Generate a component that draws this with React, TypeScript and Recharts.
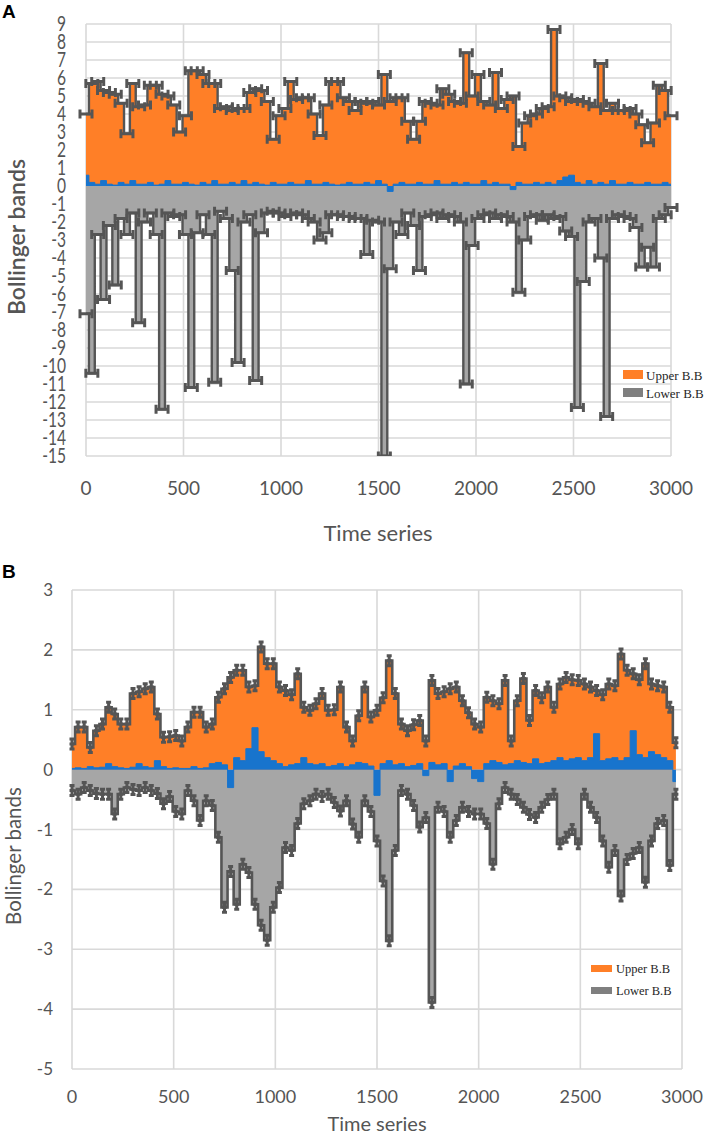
import React from 'react';
import { ComposedChart, Area, XAxis, YAxis, CartesianGrid } from 'recharts';

// ---------------------------------------------------------------------------
// Données (pas de 30 sur l'axe du temps)
// ---------------------------------------------------------------------------

const TIME_A = [
  0, 30, 60, 90, 120, 150, 180, 210, 240, 270,
  300, 330, 360, 390, 420, 450, 480, 510, 540, 570,
  600, 630, 660, 690, 720, 750, 780, 810, 840, 870,
  900, 930, 960, 990, 1020, 1050, 1080, 1110, 1140, 1170,
  1200, 1230, 1260, 1290, 1320, 1350, 1380, 1410, 1440, 1470,
  1500, 1530, 1560, 1590, 1620, 1650, 1680, 1710, 1740, 1770,
  1800, 1830, 1860, 1890, 1920, 1950, 1980, 2010, 2040, 2070,
  2100, 2130, 2160, 2190, 2220, 2250, 2280, 2310, 2340, 2370,
  2400, 2430, 2460, 2490, 2520, 2550, 2580, 2610, 2640, 2670,
  2700, 2730, 2760, 2790, 2820, 2850, 2880, 2910, 2940, 2970,
  3000,
];

const UPPER_A = [
  4.0, 5.7, 5.8, 5.3, 5.2, 5.1, 4.6, 2.9, 5.7, 4.4,
  4.5, 5.6, 5.6, 5.1, 5.0, 4.5, 3.0, 3.9, 6.4, 6.4,
  6.2, 5.7, 5.7, 4.3, 4.4, 4.2, 4.3, 4.3, 5.2, 5.4,
  5.3, 4.7, 2.6, 3.9, 4.3, 5.8, 4.8, 4.9, 4.9, 4.0,
  2.8, 4.5, 5.8, 5.8, 4.9, 4.7, 4.2, 4.7, 4.6, 4.7,
  4.5, 6.2, 4.7, 4.9, 4.9, 3.6, 2.6, 3.6, 4.7, 4.6,
  4.5, 5.4, 5.1, 4.7, 4.6, 7.4, 5.0, 6.2, 4.7, 4.5,
  6.3, 4.3, 4.8, 5.0, 2.2, 3.5, 3.9, 4.0, 4.3, 4.4,
  8.7, 5.0, 4.9, 4.7, 4.8, 4.7, 4.6, 4.4, 6.8, 4.2,
  4.6, 4.2, 4.2, 4.3, 4.0, 3.4, 2.4, 3.5, 5.6, 5.3,
  3.9,
];

const LOWER_A = [
  -7.1, -10.4, -2.7, -6.3, -2.2, -5.5, -1.8, -2.7, -1.5, -7.6,
  -2.0, -1.5, -2.7, -12.4, -1.5, -1.7, -1.6, -2.7, -11.2, -2.6,
  -1.6, -2.7, -10.9, -1.4, -1.8, -4.7, -9.8, -2.0, -1.6, -10.8,
  -2.6, -1.5, -1.4, -1.5, -1.7, -1.6, -1.5, -1.6, -1.8, -2.0,
  -3.0, -2.6, -1.6, -1.6, -1.7, -1.7, -1.8, -1.8, -3.8, -1.9,
  -2.0, -15.0, -4.6, -2.0, -2.7, -1.5, -2.2, -4.7, -1.7, -1.6,
  -1.5, -1.8, -1.6, -1.7, -2.0, -11.0, -3.3, -1.8, -1.6, -1.5,
  -1.8, -1.6, -1.7, -2.0, -5.9, -3.0, -1.7, -1.6, -1.9, -1.6,
  -1.8, -1.7, -2.5, -2.8, -12.3, -5.3, -2.0, -1.8, -4.0, -12.8,
  -1.8, -1.6, -1.7, -1.8, -2.3, -4.5, -3.4, -4.5, -1.8, -1.6,
  -1.2,
];

const MIDDLE_A = [
  0.6, 0.2, 0.1, 0.3, 0.1, 0.05, 0.2, 0.1, 0.3, 0.1,
  0.1, 0.2, 0.05, 0.1, 0.3, 0.1, 0.1, 0.2, 0.1, 0.05,
  0.2, 0.1, 0.3, 0.1, 0.1, 0.2, 0.1, 0.3, 0.1, 0.2,
  0.1, 0.05, 0.2, 0.1, 0.1, 0.2, 0.1, 0.1, 0.3, 0.1,
  0.1, 0.2, 0.1, 0.05, 0.1, 0.2, 0.1, 0.1, 0.2, 0.1,
  0.3, 0.1, -0.3, 0.1, 0.2, 0.1, 0.1, 0.2, 0.1, 0.1,
  0.3, 0.1, 0.1, 0.2, 0.1, 0.2, 0.1, 0.1, 0.3, 0.1,
  0.2, 0.1, 0.1, -0.2, 0.2, 0.1, 0.1, 0.2, 0.1, 0.2,
  0.1, 0.3, 0.5, 0.6, 0.2, 0.1, 0.3, 0.1, 0.2, 0.1,
  0.3, 0.1, 0.1, 0.2, 0.1, 0.1, 0.2, 0.1, 0.1, 0.2,
  0.1,
];

const TIME_B = [
  0, 30, 60, 90, 120, 150, 180, 210, 240, 270,
  300, 330, 360, 390, 420, 450, 480, 510, 540, 570,
  600, 630, 660, 690, 720, 750, 780, 810, 840, 870,
  900, 930, 960, 990, 1020, 1050, 1080, 1110, 1140, 1170,
  1200, 1230, 1260, 1290, 1320, 1350, 1380, 1410, 1440, 1470,
  1500, 1530, 1560, 1590, 1620, 1650, 1680, 1710, 1740, 1770,
  1800, 1830, 1860, 1890, 1920, 1950, 1980, 2010, 2040, 2070,
  2100, 2130, 2160, 2190, 2220, 2250, 2280, 2310, 2340, 2370,
  2400, 2430, 2460, 2490, 2520, 2550, 2580, 2610, 2640, 2670,
  2700, 2730, 2760, 2790, 2820, 2850, 2880, 2910, 2940, 2970,
];

const UPPER_B = [
  0.43, 0.71, 0.71, 0.37, 0.65, 0.76, 1.04, 0.93, 0.76, 0.76,
  1.27, 1.30, 1.35, 1.38, 0.93, 0.54, 0.55, 0.57, 0.48, 0.71,
  0.96, 0.96, 0.71, 0.76, 1.21, 1.35, 1.54, 1.66, 1.66, 1.38,
  1.40, 2.05, 1.77, 1.77, 1.38, 1.32, 1.25, 1.60, 1.04, 0.99,
  1.10, 1.27, 0.99, 1.00, 1.38, 0.71, 0.48, 0.90, 1.38, 0.88,
  0.99, 1.20, 1.82, 1.27, 0.76, 0.65, 0.75, 0.82, 0.48, 1.49,
  1.27, 1.30, 1.35, 1.38, 1.15, 0.95, 0.76, 0.71, 1.21, 1.15,
  1.10, 1.49, 0.48, 1.15, 1.52, 0.82, 1.32, 1.20, 1.38, 1.04,
  1.43, 1.54, 1.50, 1.49, 1.43, 1.38, 1.32, 1.25, 1.43, 1.40,
  1.93, 1.66, 1.60, 1.50, 1.77, 1.43, 1.40, 1.38, 1.04, 0.45,
];

const LOWER_B = [
  -0.35, -0.41, -0.30, -0.35, -0.40, -0.41, -0.41, -0.74, -0.41, -0.30,
  -0.33, -0.35, -0.30, -0.35, -0.40, -0.57, -0.45, -0.70, -0.74, -0.35,
  -0.52, -0.85, -0.52, -0.60, -1.13, -2.30, -1.70, -2.25, -1.58, -1.72,
  -2.25, -2.60, -2.85, -2.30, -1.97, -1.30, -1.35, -0.90, -0.57, -0.52,
  -0.41, -0.45, -0.41, -0.55, -0.69, -0.52, -0.91, -1.13, -0.52, -0.70,
  -1.19, -1.86, -2.86, -1.35, -0.35, -0.41, -0.60, -0.96, -0.80, -3.89,
  -0.63, -0.70, -1.13, -0.85, -0.63, -0.70, -0.74, -0.74, -0.90, -1.58,
  -0.57, -0.30, -0.41, -0.50, -0.63, -0.75, -0.80, -0.63, -0.50, -0.41,
  -1.24, -1.13, -1.00, -1.24, -0.41, -0.63, -0.80, -1.19, -1.63, -1.35,
  -2.11, -1.50, -1.40, -1.30, -1.88, -1.19, -0.90, -0.85, -1.60, -0.41,
];

const MIDDLE_B = [
  0.02, 0.03, 0.02, 0.05, 0.03, 0.04, 0.1, 0.05, 0.03, 0.02,
  0.04, 0.1, 0.05, 0.03, 0.15, 0.05, 0.02, 0.03, 0.02, 0.02,
  0.05, 0.02, 0.03, 0.1, 0.12, 0.08, -0.3, 0.2, 0.15, 0.35,
  0.7, 0.3, 0.2, 0.15, 0.1, 0.05, 0.08, 0.1, 0.2, 0.1,
  0.08, 0.1, 0.05, 0.07, 0.1, 0.05, 0.08, 0.12, 0.1, 0.06,
  -0.43, 0.1, 0.15, 0.08, 0.1, 0.05, 0.07, 0.1, -0.1, 0.12,
  0.08, 0.1, -0.2, 0.06, 0.1, 0.05, -0.15, -0.2, 0.1, 0.15,
  0.12, 0.08, 0.1, 0.15, 0.12, 0.1, 0.18, 0.1, 0.12, 0.15,
  0.2, 0.15, 0.18, 0.2, 0.15, 0.2, 0.6, 0.15, 0.18, 0.2,
  0.15, 0.2, 0.65, 0.25, 0.2, 0.3, 0.25, 0.2, 0.15, -0.2,
];

const X_TICKS = [0, 500, 1000, 1500, 2000, 2500, 3000];
const Y_TICKS_A = [-15, -14, -13, -12, -11, -10, -9, -8, -7, -6, -5, -4, -3, -2, -1, 0, 1, 2, 3, 4, 5, 6, 7, 8, 9];
const Y_TICKS_B = [-5, -4, -3, -2, -1, 0, 1, 2, 3];

const ORANGE = '#FF7F27';
const GREY = '#A6A6A6';
const DARK = '#555555';
const BLUE = '#1874CD';
const GRID = '#D9D9D9';
const FONT = 'Lato, "Open Sans", sans-serif';
const SERIF = "'Liberation Serif', 'Times New Roman', serif";

function rows(time: number[], upper: number[], lower: number[], middle: number[]) {
  return time.map((t, i) => ({ t, upper: upper[i], lower: lower[i], middle: middle[i] }));
}

const dataA = rows(TIME_A, UPPER_A, LOWER_A, MIDDLE_A);
const dataB = rows(TIME_B, UPPER_B, LOWER_B, MIDDLE_B);

// barres d'erreur : horizontales sur A, verticales sur B
const capA = (p: any) => {
  const { cx, cy, index } = p;
  if (cx == null || cy == null) return <g key={`ca${index}`} />;
  return (
    <path
      key={`ca${index}`}
      d={`M${cx - 6},${cy}H${cx + 6}M${cx - 6},${cy - 4.5}V${cy + 4.5}M${cx + 6},${cy - 4.5}V${cy + 4.5}`}
      stroke={DARK}
      strokeWidth={3}
      fill="none"
    />
  );
};

const capB = (p: any) => {
  const { cx, cy, index } = p;
  if (cx == null || cy == null) return <g key={`cb${index}`} />;
  return (
    <path
      key={`cb${index}`}
      d={`M${cx},${cy - 6.5}V${cy + 6.5}M${cx - 2.5},${cy - 5}H${cx + 2.5}M${cx - 2.5},${cy + 5}H${cx + 2.5}M${cx - 2.5},${cy}H${cx + 2.5}`}
      stroke={DARK}
      strokeWidth={3}
      fill="none"
    />
  );
};

const TickYA = ({ x, y, payload }: any) => (
  <g transform={`translate(${x - 20},${y})`}>
    <text transform="scale(0.82,1.08)" textAnchor="end" dy="0.36em" fontSize={19} fill={DARK} fontFamily={FONT}>
      {payload.value}
    </text>
  </g>
);

const TickXA = ({ x, y, payload }: any) => (
  <text x={x} y={y + 39} textAnchor="middle" fontSize={19} fill={DARK} fontFamily={FONT}>
    {payload.value}
  </text>
);

const TickYB = ({ x, y, payload }: any) => (
  <text x={x - 19} y={y} dy="0.36em" textAnchor="end" fontSize={17} fill={DARK} fontFamily={FONT}>
    {payload.value}
  </text>
);

const TickXB = ({ x, y, payload }: any) => (
  <text x={x} y={y + 34} textAnchor="middle" fontSize={18} fill={DARK} fontFamily={FONT}>
    {payload.value}
  </text>
);

export default function App() {
  return (
    <div style={{ position: 'absolute', left: 0, top: 0, width: 706, height: 1136, background: '#fff', overflow: 'hidden' }}>
      {/* Panneau A */}
      <div style={{ position: 'absolute', left: 0, top: 0 }}>
        <ComposedChart width={706} height={560} data={dataA} margin={{ top: 24, right: 35, left: 26, bottom: 74 }}>
          <CartesianGrid stroke={GRID} strokeWidth={1.6} />
          <XAxis
            dataKey="t"
            type="number"
            domain={[0, 3000]}
            ticks={X_TICKS}
            axisLine={false}
            tickLine={false}
            tickSize={0}
            tickMargin={0}
            height={30}
            tick={<TickXA />}
            interval={0}
          />
          <YAxis
            type="number"
            domain={[-15, 9]}
            ticks={Y_TICKS_A}
            allowDataOverflow
            axisLine={false}
            tickLine={false}
            tickSize={0}
            tickMargin={0}
            width={60}
            tick={<TickYA />}
            interval={0}
          />
          <Area type="step" dataKey="upper" baseValue={0} fill={ORANGE} fillOpacity={1} stroke={DARK} strokeWidth={2.4} dot={capA} activeDot={false} isAnimationActive={false} />
          <Area type="step" dataKey="lower" baseValue={0} fill={GREY} fillOpacity={1} stroke={DARK} strokeWidth={2.4} dot={capA} activeDot={false} isAnimationActive={false} />
          <Area type="step" dataKey="middle" baseValue={0} fill={BLUE} fillOpacity={1} stroke={BLUE} strokeWidth={1} dot={false} activeDot={false} isAnimationActive={false} />
        </ComposedChart>
      </div>

      {/* Panneau B */}
      <div style={{ position: 'absolute', left: 0, top: 560 }}>
        <ComposedChart width={706} height={576} data={dataB} margin={{ top: 30, right: 24, left: 12, bottom: 37 }}>
          <CartesianGrid stroke={GRID} strokeWidth={1.6} />
          <XAxis
            dataKey="t"
            type="number"
            domain={[0, 3000]}
            ticks={X_TICKS}
            axisLine={false}
            tickLine={false}
            tickSize={0}
            tickMargin={0}
            height={30}
            tick={<TickXB />}
            interval={0}
          />
          <YAxis
            type="number"
            domain={[-5, 3]}
            ticks={Y_TICKS_B}
            axisLine={false}
            tickLine={false}
            tickSize={0}
            tickMargin={0}
            width={60}
            tick={<TickYB />}
            interval={0}
          />
          <Area type="step" dataKey="upper" baseValue={0} fill={ORANGE} fillOpacity={1} stroke={DARK} strokeWidth={2.6} dot={capB} activeDot={false} isAnimationActive={false} />
          <Area type="step" dataKey="lower" baseValue={0} fill={GREY} fillOpacity={1} stroke={DARK} strokeWidth={2.6} dot={capB} activeDot={false} isAnimationActive={false} />
          <Area type="step" dataKey="middle" baseValue={0} fill={BLUE} fillOpacity={1} stroke={BLUE} strokeWidth={1} dot={false} activeDot={false} isAnimationActive={false} />
        </ComposedChart>
      </div>

      {/* Titres, lettres et légendes */}
      <svg width={706} height={1136} style={{ position: 'absolute', left: 0, top: 0, pointerEvents: 'none' }}>
        <text x={2} y={18} fontSize={19} fontWeight="bold" fontFamily="'Liberation Sans', Arial, sans-serif" fill="#000">A</text>
        <text x={2} y={578} fontSize={19} fontWeight="bold" fontFamily="'Liberation Sans', Arial, sans-serif" fill="#000">B</text>

        <text transform="translate(25,237) rotate(-90)" textAnchor="middle" fontSize={23} fontWeight={600} fontFamily={FONT} fill={DARK}>
          Bollinger bands
        </text>
        <text x={378} y={541} textAnchor="middle" fontSize={22} fontFamily={FONT} fill={DARK}>Time series</text>

        <text transform="translate(21,856) rotate(-90)" textAnchor="middle" fontSize={20.5} fontFamily={FONT} fill={DARK}>
          Bollinger bands
        </text>
        <text x={377} y={1131} textAnchor="middle" fontSize={20} fontFamily={FONT} fill={DARK}>Time series</text>

        <rect x={623} y={370} width={20} height={9} fill={ORANGE} />
        <text x={646} y={380} fontSize={13} fontFamily={SERIF} fill="#262626">Upper B.B</text>
        <rect x={623} y={388} width={20} height={9} fill="#7F7F7F" />
        <text x={646} y={398} fontSize={13} fontFamily={SERIF} fill="#262626">Lower B.B</text>

        <rect x={591} y={965} width={21} height={7} fill={ORANGE} />
        <text x={616} y={973} fontSize={12.5} fontFamily={SERIF} fill="#262626">Upper B.B</text>
        <rect x={591} y={987} width={21} height={7} fill="#7F7F7F" />
        <text x={616} y={995} fontSize={12.5} fontFamily={SERIF} fill="#262626">Lower B.B</text>
      </svg>
    </div>
  );
}
